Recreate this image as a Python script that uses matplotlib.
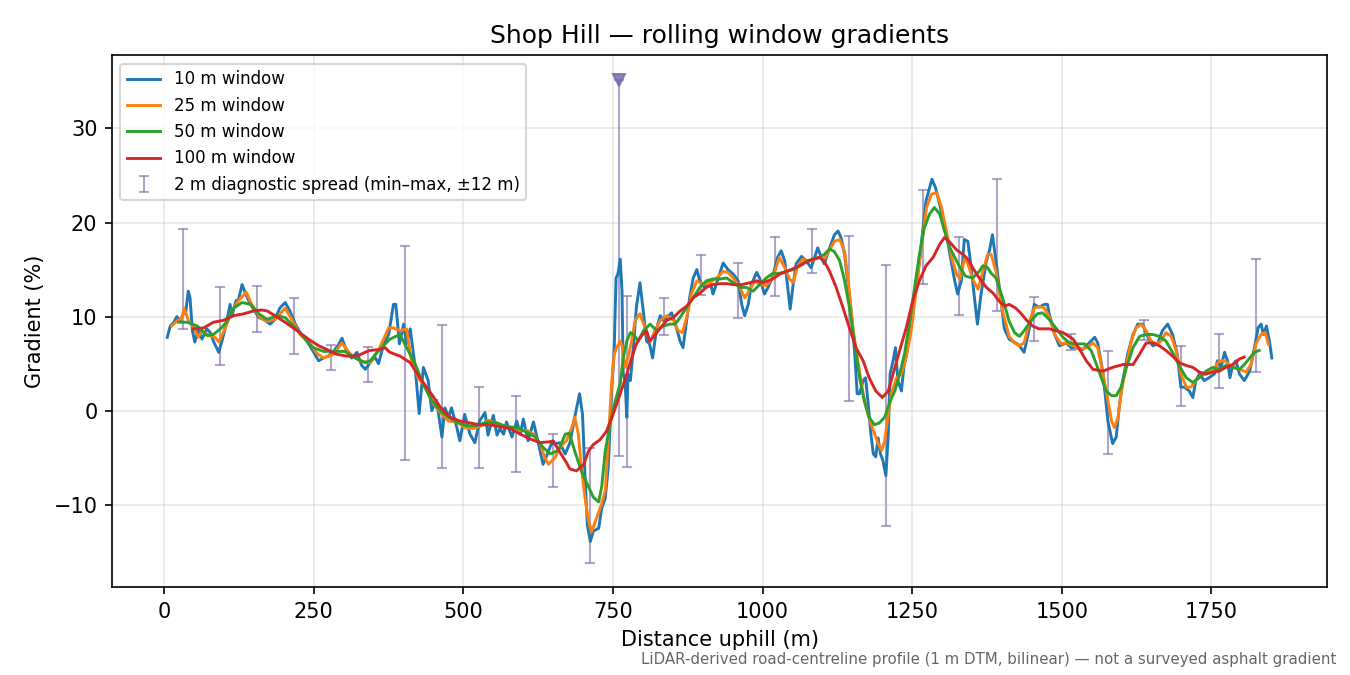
import matplotlib

matplotlib.use('Agg')
import matplotlib.pyplot as plt
import numpy as np

# 10 m window
dist_10 = [5, 10, 16, 21, 26, 31, 36, 40, 43, 47, 51, 57, 63, 71, 77, 82, 91, 96, 102, 110,
           113, 120, 124, 130, 135, 141, 149, 158, 166, 177, 185, 193, 202, 210, 219, 227, 238, 249, 258, 266,
           274, 283, 291, 297, 305, 313, 322, 330, 336, 344, 352, 358, 366, 375, 383, 387, 393, 400, 405, 411,
           419, 426, 433, 441, 447, 455, 464, 469, 475, 480, 489, 494, 502, 511, 519, 527, 536, 541, 550, 556,
           561, 567, 572, 581, 589, 595, 600, 608, 617, 625, 633, 639, 647, 655, 661, 670, 678, 686, 694, 699,
           703, 707, 712, 717, 726, 731, 737, 742, 748, 752, 755, 758, 762, 765, 767, 770, 773, 775, 779, 784,
           789, 795, 801, 806, 811, 816, 823, 829, 834, 840, 848, 856, 862, 867, 873, 878, 884, 890, 895, 903,
           912, 917, 926, 934, 942, 951, 959, 965, 970, 976, 981, 990, 995, 1003, 1009, 1017, 1025, 1031, 1037, 1042,
           1046, 1051, 1056, 1065, 1073, 1081, 1087, 1092, 1098, 1103, 1112, 1120, 1126, 1131, 1137, 1142, 1148, 1154, 1158, 1162,
           1168, 1172, 1176, 1181, 1185, 1189, 1193, 1197, 1201, 1206, 1210, 1213, 1218, 1222, 1226, 1232, 1236, 1240, 1246, 1251,
           1257, 1262, 1268, 1273, 1279, 1283, 1289, 1296, 1304, 1310, 1315, 1321, 1326, 1332, 1337, 1343, 1348, 1354, 1359, 1365,
           1374, 1379, 1384, 1390, 1398, 1404, 1412, 1420, 1428, 1437, 1446, 1454, 1462, 1471, 1476, 1479, 1488, 1496, 1507, 1516,
           1524, 1535, 1544, 1555, 1560, 1569, 1577, 1585, 1591, 1596, 1602, 1610, 1619, 1627, 1635, 1644, 1652, 1660, 1668, 1677,
           1685, 1693, 1699, 1705, 1713, 1719, 1724, 1730, 1738, 1746, 1755, 1760, 1766, 1772, 1777, 1781, 1786, 1791, 1797, 1805,
           1814, 1822, 1828, 1833, 1837, 1842, 1847, 1851]
grad_10 = [7.8, 9.0, 9.4, 10.0, 9.5, 10.2, 10.5, 12.7, 12.0, 8.5, 7.3, 8.7, 7.6, 8.7, 8.3, 7.4, 6.2, 7.3, 8.8, 11.3,
           10.1, 11.7, 11.8, 13.4, 12.6, 11.7, 10.8, 9.9, 9.7, 9.2, 9.7, 10.9, 11.5, 10.6, 9.2, 8.3, 7.4, 6.3, 5.3, 5.6,
           5.8, 6.3, 7.0, 7.7, 6.3, 5.6, 6.2, 4.8, 4.4, 5.1, 5.7, 5.0, 6.9, 8.1, 11.3, 11.3, 7.1, 9.2, 7.1, 8.7,
           4.8, -0.3, 4.6, 3.2, 0.0, 1.1, -2.8, 0.3, -0.7, 0.3, -1.8, -3.2, -0.4, -2.5, -3.4, -1.1, -0.2, -2.6, -0.5, -2.6,
           -1.9, -2.5, -1.2, -2.8, -1.1, -2.5, -0.9, -3.2, -1.2, -3.4, -5.7, -4.8, -3.5, -3.5, -3.4, -4.6, -3.4, -0.7, 1.8, -0.4,
           -6.8, -12.1, -13.9, -12.8, -12.5, -10.4, -9.3, -6.0, 2.4, 6.7, 14.1, 14.5, 16.1, 12.7, 3.9, 3.2, -0.7, 3.9, 3.2, 6.7,
           11.0, 13.6, 10.3, 7.4, 7.1, 5.6, 8.8, 10.1, 9.6, 9.9, 10.4, 8.8, 7.4, 6.7, 9.6, 12.0, 14.1, 15.0, 13.8, 13.1,
           13.8, 12.4, 14.1, 15.7, 15.0, 14.5, 13.8, 11.3, 10.1, 11.3, 13.4, 14.7, 14.1, 12.4, 13.1, 14.3, 16.3, 17.0, 15.9, 13.1,
           10.8, 13.4, 15.6, 16.4, 15.9, 15.2, 16.3, 17.3, 16.3, 15.6, 17.3, 18.7, 19.1, 18.4, 16.6, 13.8, 10.6, 6.0, 1.8, 1.8,
           3.2, 3.5, 1.0, -2.5, -4.6, -4.9, -2.9, -4.6, -5.3, -6.9, -2.5, 3.9, 5.3, 6.7, 3.2, 2.1, 4.6, 6.0, 8.1, 10.9,
           13.1, 15.9, 19.4, 22.3, 23.7, 24.6, 23.7, 21.9, 19.4, 17.7, 15.9, 13.8, 12.4, 13.8, 18.2, 18.0, 15.5, 12.0, 9.2, 12.4,
           15.9, 17.0, 18.7, 15.9, 11.9, 8.7, 7.6, 7.3, 7.0, 6.2, 8.8, 11.3, 11.0, 11.3, 11.3, 10.3, 8.1, 6.9, 7.2, 6.7,
           6.7, 6.5, 7.1, 7.8, 7.2, 3.9, -1.1, -3.5, -2.8, 0.4, 3.2, 6.0, 8.1, 9.2, 9.2, 7.8, 6.9, 7.1, 8.5, 9.2,
           8.1, 6.0, 2.5, 2.5, 2.1, 1.4, 3.2, 3.9, 3.2, 3.5, 3.9, 5.3, 4.6, 6.2, 5.3, 3.5, 4.9, 5.3, 3.9, 3.2,
           4.2, 6.7, 8.8, 9.2, 8.1, 9.0, 7.4, 5.6]

# 25 m window
dist_25 = [12, 21, 30, 33, 41, 49, 57, 63, 74, 85, 91, 102, 113, 124, 137, 146, 160, 172, 185, 202,
           213, 227, 241, 255, 266, 283, 297, 311, 327, 344, 360, 375, 383, 394, 405, 413, 425, 433, 444, 455,
           464, 475, 489, 502, 516, 530, 541, 556, 572, 589, 606, 617, 628, 636, 642, 653, 661, 672, 681, 686,
           692, 697, 703, 709, 714, 723, 731, 737, 742, 748, 752, 756, 762, 766, 770, 775, 781, 787, 795, 803,
           812, 820, 829, 840, 851, 859, 866, 873, 881, 890, 901, 912, 923, 934, 942, 951, 962, 970, 979, 987,
           995, 1006, 1017, 1028, 1037, 1045, 1051, 1059, 1067, 1079, 1087, 1095, 1103, 1112, 1120, 1129, 1137, 1143, 1151, 1159,
           1168, 1176, 1185, 1193, 1199, 1204, 1210, 1215, 1224, 1232, 1240, 1249, 1257, 1265, 1274, 1282, 1291, 1299, 1307, 1316,
           1324, 1330, 1338, 1343, 1351, 1360, 1368, 1376, 1382, 1390, 1401, 1412, 1421, 1429, 1437, 1446, 1454, 1462, 1471, 1479,
           1488, 1499, 1507, 1519, 1530, 1541, 1552, 1560, 1569, 1577, 1583, 1588, 1594, 1599, 1608, 1616, 1624, 1633, 1641, 1649,
           1658, 1666, 1674, 1683, 1691, 1699, 1708, 1716, 1724, 1732, 1741, 1752, 1763, 1772, 1780, 1788, 1797, 1808, 1816, 1825,
           1833, 1840, 1845]
grad_25 = [9.0, 9.5, 9.9, 10.9, 9.5, 8.8, 7.8, 8.5, 8.0, 7.8, 7.3, 8.8, 10.6, 11.7, 12.6, 11.3, 9.9, 9.5, 9.7, 10.9,
           9.7, 8.1, 7.3, 6.1, 5.6, 6.0, 7.2, 6.0, 5.3, 5.1, 6.7, 8.8, 8.8, 8.5, 8.7, 5.3, 3.4, 2.8, 1.4, 0.3,
           -0.4, -1.1, -1.2, -1.8, -1.9, -1.6, -1.0, -1.4, -1.7, -2.1, -2.1, -2.5, -3.5, -5.0, -5.7, -5.0, -3.9, -3.2, -1.8, -0.7,
           -2.5, -6.0, -9.2, -11.7, -12.9, -11.3, -9.9, -8.5, -3.2, 3.2, 6.0, 6.7, 7.4, 6.7, 4.6, 5.6, 7.4, 9.6, 10.3, 8.9,
           7.3, 8.5, 9.6, 10.1, 9.6, 8.5, 8.3, 9.9, 12.4, 13.8, 13.4, 13.6, 14.1, 14.8, 14.7, 14.1, 13.1, 12.0, 12.9, 13.8,
           13.4, 13.3, 14.1, 16.3, 15.2, 14.0, 13.6, 15.4, 16.1, 15.9, 16.1, 16.3, 16.1, 17.1, 18.0, 18.2, 16.9, 13.8, 8.8, 5.3,
           1.8, -0.4, -2.1, -3.5, -4.2, -3.2, -0.4, 1.8, 3.5, 3.9, 5.7, 8.8, 13.1, 17.3, 21.6, 23.0, 23.2, 21.6, 19.1, 16.3,
           14.5, 14.0, 16.3, 15.6, 14.0, 12.9, 14.8, 16.6, 16.6, 14.8, 10.6, 7.9, 7.2, 6.9, 7.2, 9.5, 10.9, 11.1, 10.9, 10.0,
           8.1, 7.1, 7.2, 6.9, 6.5, 6.7, 7.2, 6.7, 3.9, 1.1, -1.1, -1.8, -0.7, 1.8, 4.9, 7.4, 8.8, 9.2, 8.5, 7.4,
           7.1, 7.4, 8.3, 7.9, 6.4, 3.9, 2.5, 2.5, 3.2, 3.7, 3.9, 4.2, 5.3, 5.3, 4.9, 4.6, 4.4, 4.1, 4.9, 7.2,
           8.1, 8.3, 7.1]

# 50 m window
dist_50 = [24, 38, 55, 71, 82, 94, 105, 116, 130, 144, 158, 172, 188, 202, 216, 233, 249, 266, 286, 302,
           319, 336, 344, 360, 377, 394, 405, 419, 433, 447, 461, 475, 489, 505, 522, 539, 556, 572, 589, 606,
           620, 633, 645, 659, 670, 677, 686, 697, 709, 717, 726, 731, 737, 745, 754, 762, 767, 773, 779, 784,
           792, 801, 812, 823, 834, 845, 854, 862, 873, 884, 895, 906, 917, 929, 940, 951, 962, 973, 984, 995,
           1006, 1017, 1028, 1040, 1051, 1062, 1073, 1084, 1095, 1103, 1112, 1120, 1129, 1137, 1145, 1154, 1162, 1170, 1178, 1187,
           1195, 1204, 1213, 1221, 1229, 1237, 1246, 1254, 1262, 1270, 1279, 1287, 1296, 1304, 1313, 1321, 1330, 1339, 1351, 1362,
           1368, 1376, 1382, 1390, 1401, 1412, 1421, 1429, 1437, 1448, 1459, 1468, 1479, 1490, 1502, 1513, 1524, 1538, 1549, 1558,
           1566, 1574, 1583, 1591, 1599, 1608, 1619, 1630, 1641, 1652, 1663, 1674, 1685, 1696, 1708, 1719, 1730, 1741, 1752, 1763,
           1774, 1786, 1797, 1805, 1814, 1822, 1830]
grad_50 = [9.4, 9.4, 9.0, 8.0, 8.1, 8.7, 9.5, 10.9, 11.5, 11.3, 10.3, 9.7, 10.1, 9.9, 9.0, 7.8, 6.7, 6.3, 6.3, 6.3,
           5.6, 5.1, 5.3, 6.5, 7.6, 8.1, 6.7, 5.0, 2.8, 1.1, 0.0, -0.7, -1.2, -1.6, -1.6, -1.2, -1.3, -1.7, -1.8, -2.3,
           -2.8, -3.9, -4.6, -4.2, -2.5, -2.4, -4.3, -6.4, -8.1, -9.2, -9.7, -8.1, -4.3, -1.4, 1.1, 2.9, 5.6, 7.4, 8.3, 8.1,
           7.4, 8.5, 9.2, 8.5, 9.0, 9.2, 9.2, 9.9, 11.0, 12.0, 13.1, 13.8, 14.0, 14.0, 14.1, 13.6, 13.1, 13.1, 12.7, 13.4,
           14.1, 14.6, 14.6, 14.8, 15.0, 15.4, 15.9, 16.1, 16.3, 16.6, 17.2, 16.9, 15.9, 13.8, 11.0, 7.1, 3.5, 1.0, -0.7, -1.5,
           -1.3, -0.7, 1.0, 2.1, 3.9, 6.0, 9.5, 13.1, 16.6, 19.4, 20.9, 21.6, 20.9, 19.1, 17.3, 16.3, 15.2, 14.3, 14.1, 14.8,
           15.4, 15.2, 14.6, 14.1, 12.0, 9.5, 8.3, 7.9, 8.5, 9.5, 10.3, 10.4, 9.7, 8.8, 7.8, 7.2, 7.1, 7.1, 6.4, 4.9,
           3.5, 2.1, 1.6, 1.6, 2.5, 4.6, 6.7, 7.9, 8.1, 8.1, 7.9, 7.4, 6.2, 4.8, 3.5, 3.0, 3.5, 4.2, 4.6, 4.4,
           4.8, 4.6, 4.4, 4.9, 5.6, 6.2, 6.4]

# 100 m window
dist_100 = [49, 66, 82, 99, 116, 133, 149, 163, 172, 185, 202, 222, 241, 258, 272, 288, 305, 322, 339, 344,
            360, 369, 377, 394, 411, 427, 444, 461, 478, 494, 511, 527, 544, 561, 578, 595, 611, 628, 645, 650,
            661, 670, 678, 689, 701, 709, 717, 728, 739, 750, 762, 773, 781, 789, 798, 806, 811, 817, 829, 840,
            851, 862, 873, 884, 895, 906, 917, 929, 940, 951, 965, 979, 990, 1001, 1017, 1028, 1040, 1051, 1062, 1073,
            1084, 1095, 1103, 1112, 1123, 1134, 1145, 1156, 1168, 1178, 1189, 1200, 1210, 1218, 1229, 1240, 1251, 1262, 1273, 1285,
            1296, 1304, 1313, 1324, 1335, 1343, 1351, 1362, 1374, 1385, 1396, 1404, 1412, 1423, 1431, 1440, 1451, 1462, 1479, 1502,
            1519, 1530, 1541, 1552, 1569, 1585, 1602, 1619, 1630, 1641, 1652, 1663, 1674, 1685, 1696, 1708, 1719, 1730, 1741, 1752,
            1763, 1774, 1786, 1797, 1805]
grad_100 = [8.7, 8.8, 9.4, 9.6, 10.1, 10.3, 10.6, 10.7, 10.6, 10.1, 9.4, 8.5, 7.6, 6.9, 6.5, 6.0, 5.8, 5.8, 6.3, 6.4,
            6.5, 6.7, 6.2, 5.8, 5.1, 3.5, 2.0, 0.4, -0.7, -1.1, -1.3, -1.5, -1.5, -1.7, -1.9, -2.5, -3.0, -3.4, -3.3, -3.2,
            -4.4, -5.3, -6.2, -6.4, -5.7, -4.3, -3.6, -3.1, -2.2, -0.4, 1.8, 3.9, 5.6, 7.1, 8.0, 8.5, 7.4, 7.8, 8.8, 9.6,
            9.9, 10.6, 11.1, 12.0, 12.5, 13.1, 13.4, 13.5, 13.5, 13.4, 13.4, 13.6, 13.8, 13.6, 14.0, 14.5, 14.8, 15.1, 15.4, 15.8,
            16.1, 16.3, 15.9, 14.8, 13.1, 11.0, 8.8, 6.7, 5.3, 3.5, 2.1, 1.4, 2.1, 3.9, 6.4, 8.8, 11.7, 13.8, 15.4, 16.3,
            17.7, 18.4, 17.9, 17.1, 16.6, 16.1, 15.2, 14.1, 13.1, 12.5, 11.6, 11.1, 11.3, 10.9, 10.4, 9.7, 9.0, 8.7, 8.7, 8.3,
            7.6, 6.5, 5.3, 4.4, 4.2, 4.6, 4.9, 4.9, 6.0, 7.2, 7.2, 6.9, 6.4, 5.8, 5.1, 4.8, 4.6, 4.1, 3.9, 4.1,
            4.2, 4.6, 4.9, 5.5, 5.7]

# 2 m diagnostic spread, min-max within +-12 m
diag_dist = [32, 93, 155, 217, 279, 341, 402, 464, 526, 588, 650, 712, 773, 835, 897, 959,
             1020, 1082, 1144, 1206, 1268, 1329, 1391, 1453, 1515, 1577, 1638, 1700, 1762, 1824]
diag_min = [8.7, 4.9, 8.4, 6.0, 4.3, 3.1, -5.2, -6.1, -6.1, -6.5, -8.1, -16.2, -6.0, 8.0, 12.3, 9.9,
            12.2, 14.6, 1.0, -12.3, 13.5, 10.2, 10.6, 7.4, 6.5, -4.6, 7.5, 0.5, 2.4, 4.1]
diag_max = [19.3, 13.1, 13.2, 12.0, 7.0, 6.8, 17.5, 9.1, 2.5, 1.6, -2.5, -4.0, 12.2, 12.0, 16.6, 15.7,
            18.5, 19.3, 18.6, 15.5, 23.5, 18.5, 24.6, 12.1, 8.2, 6.3, 9.6, 6.9, 8.2, 16.1]

# one spike runs off the top, drawn clipped with a marker
spike_dist = [760]
spike_min = [-4.8]
spike_max = [35.2]

diag_color = '#7b6ba8'

fig, ax = plt.subplots(figsize=(9, 4.5), dpi=150)

lo = np.array(diag_min)
hi = np.array(diag_max)
ax.errorbar(diag_dist, (lo + hi) / 2, yerr=(hi - lo) / 2, fmt='none', ecolor=diag_color, alpha=0.6,
            elinewidth=1, capsize=2.5, zorder=1, label='2 m diagnostic spread (min\u2013max, \u00b112 m)')

s_lo = np.array(spike_min)
s_hi = np.array(spike_max)
ax.errorbar(spike_dist, (s_lo + s_hi) / 2, yerr=(s_hi - s_lo) / 2, fmt='none', ecolor=diag_color, alpha=0.6,
            elinewidth=1, capsize=2.5, zorder=1)
ax.plot(spike_dist, spike_max, linestyle='none', marker='v', markersize=6, color=diag_color, alpha=0.85, zorder=3)

ax.plot(dist_10, grad_10, color='C0', linewidth=1.4, label='10 m window', zorder=2)
ax.plot(dist_25, grad_25, color='C1', linewidth=1.4, label='25 m window', zorder=2)
ax.plot(dist_50, grad_50, color='C2', linewidth=1.4, label='50 m window', zorder=2)
ax.plot(dist_100, grad_100, color='C3', linewidth=1.4, label='100 m window', zorder=2)

ax.set_title('Shop Hill \u2014 rolling window gradients', fontsize=12)
ax.set_xlabel('Distance uphill (m)')
ax.set_ylabel('Gradient (%)')
ax.grid(alpha=0.3)
ax.legend(loc='upper left', fontsize=8)

fig.text(0.99, 0.012, 'LiDAR-derived road-centreline profile (1 m DTM, bilinear) \u2014 not a surveyed asphalt gradient',
         ha='right', va='bottom', fontsize=7.2, color='0.4')

plt.subplots_adjust(left=0.083, right=0.983, top=0.918, bottom=0.13)
plt.savefig('out.png', dpi=150)
